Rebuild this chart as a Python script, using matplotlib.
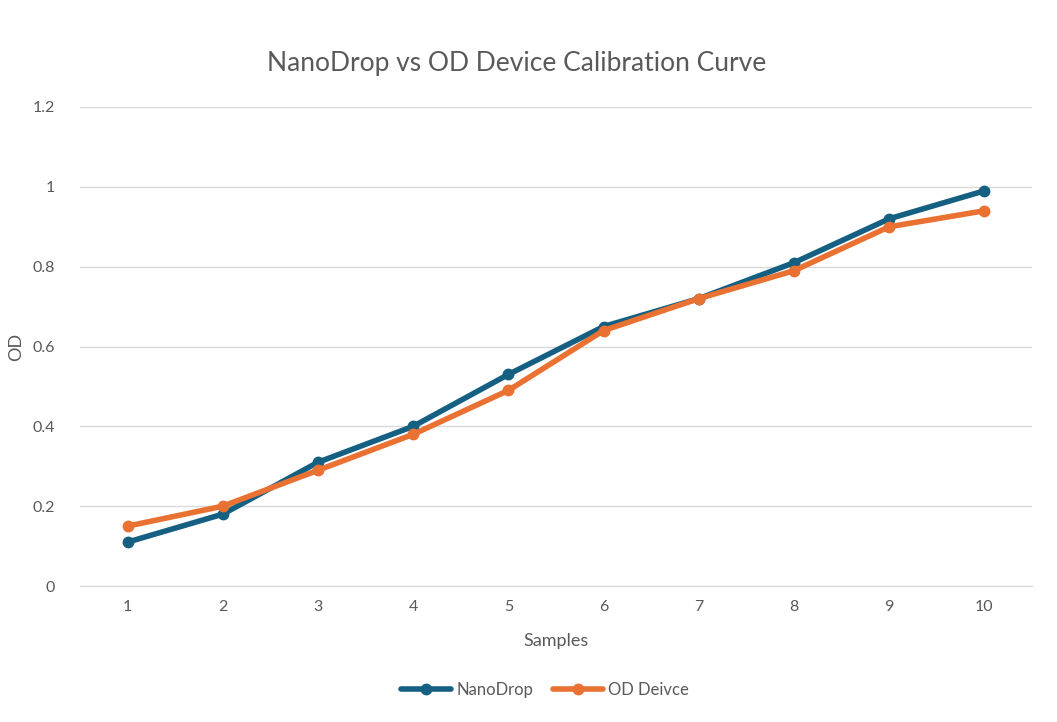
import matplotlib
matplotlib.use("Agg")
import matplotlib.pyplot as plt

samples = [1, 2, 3, 4, 5, 6, 7, 8, 9, 10]
nanodrop = [0.11, 0.18, 0.31, 0.40, 0.53, 0.65, 0.72, 0.81, 0.92, 0.99]
od_device = [0.15, 0.20, 0.29, 0.38, 0.49, 0.64, 0.72, 0.79, 0.90, 0.94]
y_ticks = [0, 0.2, 0.4, 0.6, 0.8, 1, 1.2]
y_tick_labels = ["0", "0.2", "0.4", "0.6", "0.8", "1", "1.2"]

plt.rcParams['font.family'] = ['Lato', 'DejaVu Sans']
gray = '#595959'

fig = plt.figure(figsize=(10.57, 7.22), dpi=100)
ax = fig.add_axes([80/1057, 136/722, (1032-80)/1057, (586-107)/722])

ax.plot(samples, nanodrop, color='#156082', lw=4, marker='o', ms=7.5,
        label='NanoDrop', solid_capstyle='round', zorder=3)
ax.plot(samples, od_device, color='#E97132', lw=4, marker='o', ms=7.5,
        label='OD Deivce', solid_capstyle='round', zorder=4)

ax.set_xlim(0.5, 10.5)
ax.set_ylim(0, 1.2)
ax.set_yticks(y_ticks)
ax.set_yticklabels(y_tick_labels)
ax.set_xticks(samples)
ax.set_xticklabels([str(s) for s in samples])
ax.grid(axis='y', color='#d9d9d9', lw=1)
ax.set_axisbelow(True)
for s in ['top', 'right', 'left']:
    ax.spines[s].set_visible(False)
ax.spines['bottom'].set_color('#d9d9d9')
ax.tick_params(axis='both', length=0, colors=gray, labelsize=11.5)
ax.tick_params(axis='y', pad=18)
ax.tick_params(axis='x', pad=10)

ax.set_xlabel('Samples', color=gray, fontsize=13, labelpad=14)
ax.set_ylabel('OD', color=gray, fontsize=13, labelpad=6)
fig.text(517/1057, 1-64/722, 'NanoDrop vs OD Device Calibration Curve', ha='center', va='center',
         color=gray, fontsize=19)

leg = fig.legend(loc='center', bbox_to_anchor=(545/1057, 1-690/722), ncol=2, frameon=False,
                 fontsize=12, handlelength=3, columnspacing=1.2, handletextpad=0.3)
for t in leg.get_texts():
    t.set_color(gray)

fig.savefig('out.png', dpi=100)
